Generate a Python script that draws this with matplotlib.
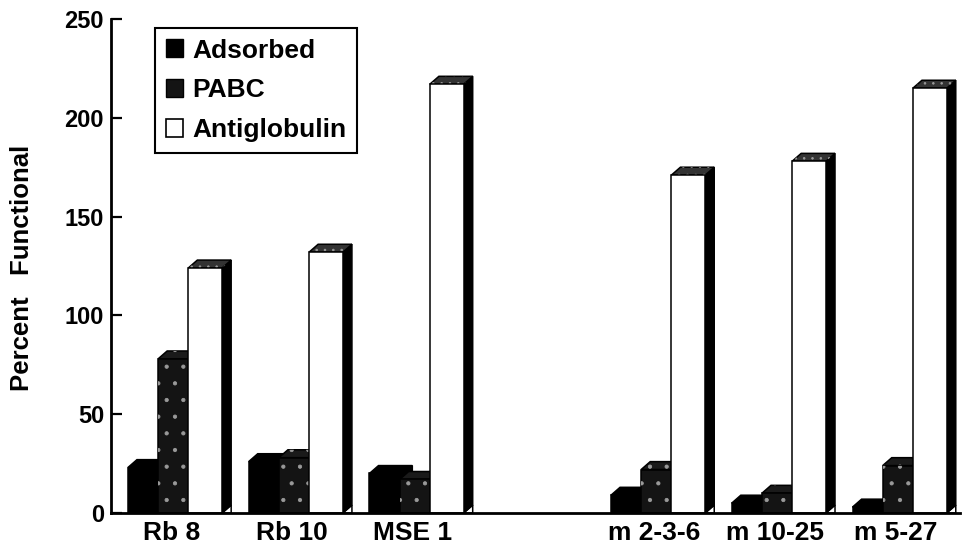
"""Percent functional antibody by assay, drawn as pseudo-3D grouped bars."""

import numpy as np
import matplotlib
matplotlib.use('Agg')
import matplotlib.pyplot as plt
from matplotlib.patches import Polygon, Patch

plt.rcParams['font.family'] = ['Liberation Sans', 'DejaVu Sans']
plt.rcParams['font.weight'] = 'bold'
plt.rcParams['hatch.linewidth'] = 0.6

groups = ['Rb 8', 'Rb 10', 'MSE 1', 'm 2-3-6', 'm 10-25', 'm 5-27']
group_pos = [0, 1, 2, 4, 5, 6]
series = ['Adsorbed', 'PABC', 'Antiglobulin']
adsorbed = [23, 26, 20, 9, 5, 3]
pabc = [78, 28, 17, 22, 10, 24]
antiglobulin = [124, 132, 217, 171, 178, 215]

# face colours per series: front, side, top, front hatch, top hatch
styles = [
    dict(front='black', side='black', top='black', fh=None, th=None),
    dict(front='#141414', side='black', top='#1a1a1a', fh='.', th='.'),
    dict(front='white', side='black', top='#333333', fh=None, th='..'),
]

BAR_W = 0.28    # front face width (group spacing = 1)
STEP = 0.25     # offset between bars of one group
DX, DY = 0.075, 4.0   # oblique depth offset


def face(ax, pts, fc, hatch, z):
    ax.add_patch(Polygon(pts, closed=True, facecolor=fc, edgecolor='black',
                         linewidth=1.1, zorder=z))
    if hatch:
        ax.add_patch(Polygon(pts, closed=True, facecolor='none', edgecolor='#9a9a9a',
                             linewidth=0, hatch=hatch, zorder=z + 0.01))


def bar3d(ax, x0, h, st, z):
    x1 = x0 + BAR_W
    # little floor triangle under the side face
    face(ax, [(x1, 0), (x1 + DX, DY), (x1 + DX, 0)], 'white', None, z)
    face(ax, [(x1, 0), (x1 + DX, DY), (x1 + DX, h + DY), (x1, h)], st['side'], None, z + 0.1)
    face(ax, [(x0, h), (x0 + DX, h + DY), (x1 + DX, h + DY), (x1, h)], st['top'], st['th'], z + 0.2)
    face(ax, [(x0, 0), (x0, h), (x1, h), (x1, 0)], st['front'], st['fh'], z + 0.3)


fig = plt.figure(figsize=(9.64, 5.52), dpi=100)
ax = fig.add_axes([111 / 964, 39 / 552, (960 - 111) / 964, (513 - 19) / 552])

values = [adsorbed, pabc, antiglobulin]
for g, pos in enumerate(group_pos):
    for s, vals in enumerate(values):
        bar3d(ax, pos + s * STEP, vals[g], styles[s], 2 + s)

ax.set_xlim(-0.14, 6.89)
ax.set_ylim(0, 250)
ax.set_yticks(np.arange(0, 251, 50))
ax.set_xticks([p + 0.36 for p in group_pos])
ax.set_xticklabels(groups)

for side in ('top', 'right'):
    ax.spines[side].set_visible(False)
for side in ('left', 'bottom'):
    ax.spines[side].set_linewidth(2)
    ax.spines[side].set_zorder(10)

ax.tick_params(axis='y', direction='in', length=8, width=1.6, pad=5, labelsize=17)
ax.tick_params(axis='x', length=0, pad=6, labelsize=19)

fig.text(22 / 964, 1 - 268 / 552, 'Percent   Functional', rotation=90,
         ha='center', va='center', fontsize=18.5, fontweight='bold')

handles = [
    Patch(facecolor='black', edgecolor='black', label='Adsorbed'),
    Patch(facecolor='#141414', edgecolor='black', label='PABC'),
    Patch(facecolor='white', edgecolor='black', linewidth=1.2, label='Antiglobulin'),
]
leg = ax.legend(handles=handles, loc='upper left',
                bbox_to_anchor=(155 / 964, 1 - 28 / 552), bbox_transform=fig.transFigure,
                fancybox=False, edgecolor='black', framealpha=1,
                handlelength=0.65, handleheight=0.65, handletextpad=0.35,
                labelspacing=0.6, borderpad=0.4, borderaxespad=0,
                prop={'size': 19, 'weight': 'bold'})
leg.get_frame().set_linewidth(1.5)
leg.set_zorder(20)

fig.savefig('out.png', dpi=100)
